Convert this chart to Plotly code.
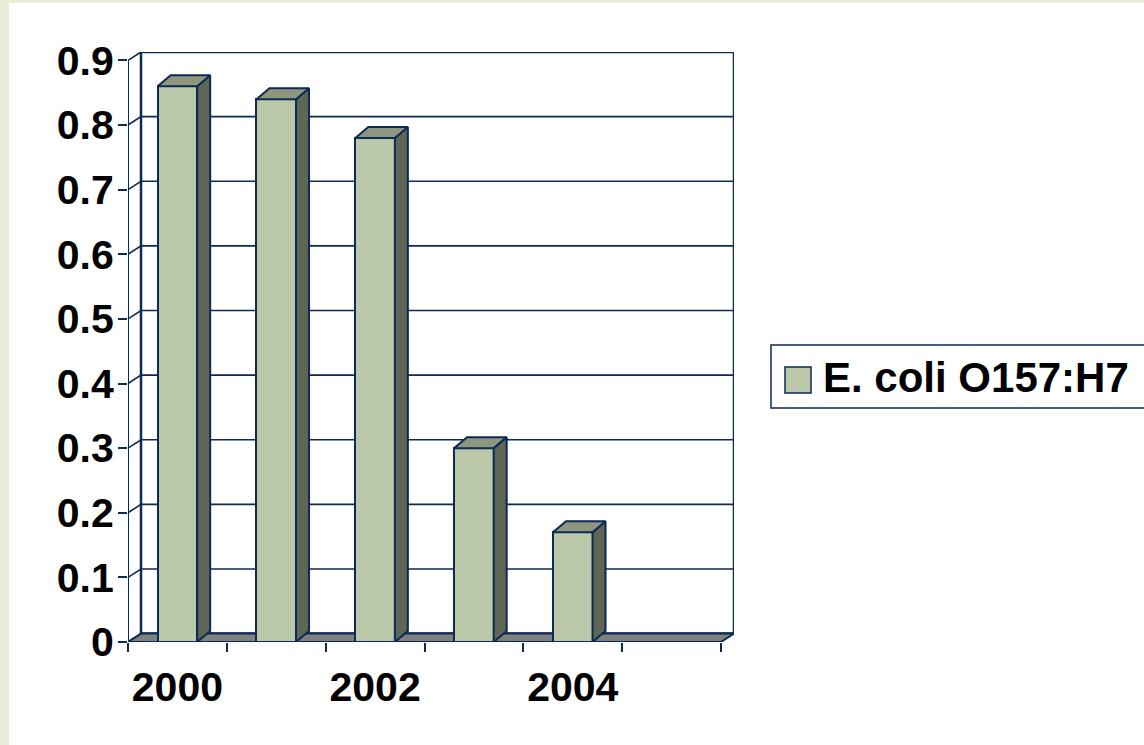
import plotly.graph_objects as go

# ---- data -------------------------------------------------------------
years = ["2000", "2001", "2002", "2003", "2004", "2005"]
incidence = [0.86, 0.84, 0.78, 0.30, 0.17, 0.0]
series_name = "E. coli O157:H7"
y_tick_vals = [0, 0.1, 0.2, 0.3, 0.4, 0.5, 0.6, 0.7, 0.8, 0.9]
y_tick_text = ["0", "0.1", "0.2", "0.3", "0.4", "0.5", "0.6", "0.7", "0.8", "0.9"]
x_tick_text = ["2000", "", "2002", "", "2004", ""]

# ---- styling ----------------------------------------------------------
W, H = 1144, 745
M_L, M_R, M_T, M_B = 128, 410, 52, 103
NAVY = "#0B2A55"
FRONT = "#BBC8AA"
SIDE = "#5F6655"
TOP = "#8F9680"
FLOOR = "#808080"
PAPER = "#ECECDA"
FAMILY = "Liberation Sans, Arial, sans-serif"
TICK_FONT = dict(family=FAMILY, size=41, color="black", weight="bold")
LEGEND_FONT = dict(family=FAMILY, size=42, color="black", weight="bold")

n = len(years)
pos = list(range(n))
bar_w = 0.4
x_lo, x_hi = -0.5, n - 0.5
y_top = y_tick_vals[-1]

plot_w = W - M_L - M_R
plot_h = H - M_T - M_B
px_x = plot_w / (x_hi - x_lo + 13 / 98.8)       # pixels per category
depth_x = 13 / px_x                               # receding depth (x units)
wall_dy = 0.013                                   # wall depth (y units)
y_range_top = y_top + wall_dy
px_y = plot_h / y_range_top
bar_dy = 11 / px_y                                # bar top depth (y units)


def px2paper_x(px):
    return (px - M_L) / plot_w


def px2paper_y(py):
    return (H - M_B - py) / plot_h


fig = go.Figure()

# front faces of the columns
fig.add_trace(go.Bar(
    x=pos, y=incidence, width=bar_w, name=series_name,
    marker=dict(color=FRONT, line=dict(color=NAVY, width=2)),
    showlegend=False, hoverinfo="skip",
))

# side and top faces of the columns
side_x, side_y, top_x, top_y = [], [], [], []
for p, v in zip(pos, incidence):
    if v <= 0:
        continue
    r = p + bar_w / 2
    l = p - bar_w / 2
    side_x += [r, r, r + depth_x, r + depth_x, r, None]
    side_y += [0, v, v + bar_dy, bar_dy, 0, None]
    top_x += [l, l + depth_x, r + depth_x, r, l, None]
    top_y += [v, v + bar_dy, v + bar_dy, v, v, None]

fig.add_trace(go.Scatter(x=side_x, y=side_y, mode="lines", fill="toself",
                         fillcolor=SIDE, line=dict(color=NAVY, width=2),
                         showlegend=False, hoverinfo="skip"))
fig.add_trace(go.Scatter(x=top_x, y=top_y, mode="lines", fill="toself",
                         fillcolor=TOP, line=dict(color=NAVY, width=2),
                         showlegend=False, hoverinfo="skip"))

shapes = []
# white chart panel over the slide background
shapes.append(dict(type="rect", xref="paper", yref="paper", layer="below",
                   x0=px2paper_x(9), x1=px2paper_x(W + 20),
                   y0=px2paper_y(H + 20), y1=px2paper_y(3),
                   fillcolor="white", line=dict(width=0)))

# back wall
bx0, bx1 = x_lo + depth_x, x_hi + depth_x
shapes.append(dict(type="rect", xref="x", yref="y", layer="below",
                   x0=bx0, x1=bx1, y0=wall_dy, y1=y_top + wall_dy,
                   fillcolor="white", line=dict(color=NAVY, width=2.5)))

# gridlines: diagonal across the side wall, then along the back wall
for v in y_tick_vals[1:]:
    path = f"M{x_lo},{v} L{bx0},{v + wall_dy} L{bx1},{v + wall_dy}"
    shapes.append(dict(type="path", path=path, xref="x", yref="y", layer="below",
                       line=dict(color=NAVY, width=1.6)))

# floor
floor = f"M{x_lo},0 L{x_hi},0 L{bx1},{wall_dy} L{bx0},{wall_dy} Z"
shapes.append(dict(type="path", path=floor, xref="x", yref="y", layer="below",
                   fillcolor=FLOOR, line=dict(color=NAVY, width=2)))

# front value axis
shapes.append(dict(type="line", xref="x", yref="y", layer="below",
                   x0=x_lo, x1=x_lo, y0=0, y1=y_top,
                   line=dict(color=NAVY, width=2)))

# legend box and swatch
shapes.append(dict(type="rect", xref="paper", yref="paper",
                   x0=px2paper_x(771), x1=px2paper_x(W + 30),
                   y0=px2paper_y(408), y1=px2paper_y(345),
                   fillcolor="white", line=dict(color=NAVY, width=1.5)))
shapes.append(dict(type="rect", xref="paper", yref="paper",
                   x0=px2paper_x(785), x1=px2paper_x(811),
                   y0=px2paper_y(393), y1=px2paper_y(367),
                   fillcolor=FRONT, line=dict(color=NAVY, width=1.5)))

annotations = [dict(xref="paper", yref="paper", x=px2paper_x(821), y=px2paper_y(378),
                    xanchor="left", yanchor="middle", showarrow=False,
                    text=series_name, font=LEGEND_FONT)]

fig.update_layout(
    width=W, height=H,
    margin=dict(l=M_L, r=M_R, t=M_T, b=M_B, pad=0),
    paper_bgcolor=PAPER, plot_bgcolor="rgba(0,0,0,0)",
    shapes=shapes, annotations=annotations,
    showlegend=False, bargap=0,
    xaxis=dict(range=[x_lo, x_hi + depth_x], tickmode="array", tickvals=pos,
               ticktext=x_tick_text, ticks="", showgrid=False, zeroline=False,
               showline=False, tickfont=TICK_FONT, ticklabelstandoff=17,
               minor=dict(ticks="outside", tickmode="linear", tick0=x_lo, dtick=1,
                          ticklen=9, tickwidth=2, tickcolor=NAVY, showgrid=False),
               fixedrange=True),
    yaxis=dict(range=[0, y_range_top], tickmode="array", tickvals=y_tick_vals,
               ticktext=y_tick_text, ticks="outside", ticklen=9, tickwidth=2,
               tickcolor=NAVY, showgrid=False, zeroline=False, showline=False,
               tickfont=TICK_FONT, ticklabelstandoff=-4, fixedrange=True),
)

fig.write_html("out.html")
